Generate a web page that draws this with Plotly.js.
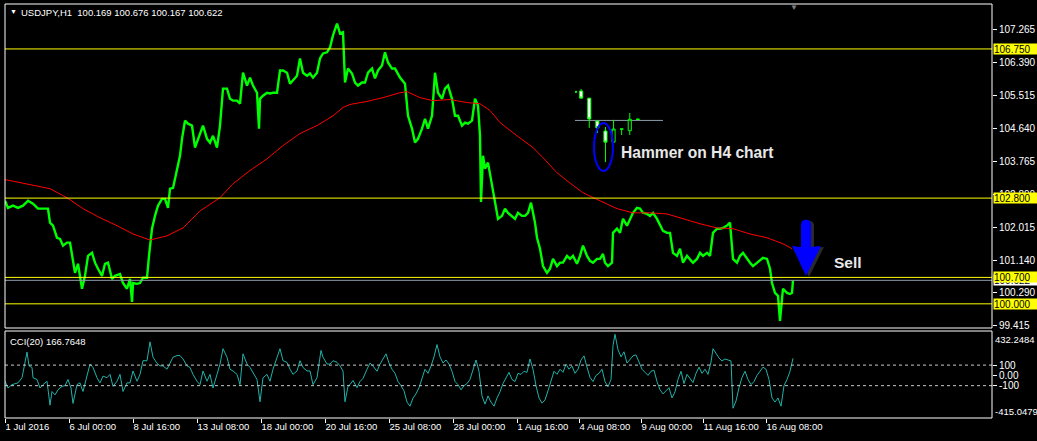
<!DOCTYPE html>
<html><head><meta charset="utf-8">
<script src="https://cdn.plot.ly/plotly-3.0.1.min.js"></script>
<style>html,body{margin:0;padding:0;background:#000;overflow:hidden}#chart{width:1037px;height:441px}</style>
</head><body><div id="chart"></div>
<script>
// ---- DATA ----
const bar = [5,8,13,18,23,28,33,38,43,48,
 50,53,57,60,63,67,70,72,75,78,
 82,85,88,92,95,98,102,105,108,112,
 115,120,123,127,130,132,133,137,140,143,
 147,149,152,155,158,162,165,168,170,173,
 177,180,182,185,188,192,195,198,200,203,
 207,210,213,217,220,223,227,230,233,237,
 240,243,247,250,253,257,259,260,263,267,
 270,273,277,280,283,287,290,293,297,300,
 303,307,310,313,317,320,323,327,330,333,
 337,340,343,345,348,352,355,358,362,365,
 368,372,375,378,382,385,388,392,395,400,
 405,408,412,415,418,422,425,428,432,435,
 438,442,445,448,452,455,458,462,465,468,
 472,475,478,480,481,483,485,488,492,495,
 498,502,505,508,512,515,518,522,525,528,
 531,533,535,537,540,543,547,550,553,557,
 560,563,567,570,573,577,580,583,587,590,
 593,597,600,603,605,608,612,613,617,620,
 623,627,630,633,637,640,643,647,650,653,
 657,660,663,667,670,673,677,680,683,687,
 690,693,697,700,703,707,710,713,717,720,
 723,727,730,733,737,740,743,747,750,753,
 757,760,763,767,770,772,775,778,780,782,
 783,787,790,792,793];
const close = [102.73,102.54,102.60,102.54,102.60,102.73,102.65,102.52,102.52,102.52,
 102.15,102.07,101.75,101.72,101.54,101.62,101.62,101.27,100.82,101.06,
 100.40,100.74,101.27,101.35,101.09,100.93,100.74,101.06,101.09,100.66,
 100.74,100.79,100.55,100.40,100.66,100.05,100.55,100.53,100.55,100.69,
 100.69,101.27,101.99,102.33,102.60,102.78,102.78,102.54,103.05,103.07,
 103.58,103.92,104.37,104.85,104.77,104.72,104.14,104.37,104.50,104.72,
 104.37,104.27,104.45,104.14,104.72,105.70,105.70,105.43,105.38,105.38,
 105.30,106.12,105.78,105.99,105.78,105.59,104.64,105.43,105.51,105.59,
 105.57,105.59,105.59,106.18,106.18,106.12,105.83,105.91,106.04,106.50,
 106.12,106.04,106.10,105.99,106.12,106.50,106.63,106.66,106.79,107.11,
 107.42,107.16,107.19,105.86,106.23,106.10,105.86,105.78,105.86,105.86,
 106.12,106.23,105.97,106.18,106.31,106.66,106.39,106.23,106.23,105.99,
 105.83,104.98,104.64,104.27,104.37,104.64,104.90,104.64,104.98,106.12,
 105.59,105.43,105.70,105.78,105.43,104.98,104.98,104.72,104.80,104.77,
 104.85,105.43,105.25,104.45,102.70,103.92,103.58,103.74,103.13,102.68,
 102.25,102.33,102.52,102.41,102.33,102.25,102.41,102.33,102.33,102.41,
 102.68,102.41,102.15,101.75,101.46,101.00,100.82,100.93,101.19,101.00,
 101.09,101.09,101.27,101.19,101.27,101.06,101.27,101.54,101.27,101.14,
 101.09,101.19,101.19,101.32,101.09,101.00,101.09,101.88,101.99,101.88,
 102.25,102.07,102.25,102.41,102.54,102.52,102.41,102.38,102.33,102.41,
 102.25,102.07,101.93,101.88,101.88,101.35,101.27,101.46,101.09,101.27,
 101.19,101.09,101.19,101.35,101.27,101.35,101.27,101.88,101.99,101.99,
 102.01,102.07,102.15,101.19,101.09,101.27,101.35,101.19,101.09,101.00,
 101.09,101.14,101.22,101.19,100.93,100.55,100.29,100.21,99.55,100.13,
 100.40,100.29,100.26,100.29,100.62];

const maBar = [5,33,50,67,83,100,117,133,150,167,183,200,220,233,250,267,283,300,317,333,
 343,350,367,383,400,407,420,433,450,467,480,490,500,517,533,543,557,567,583,600,
 617,633,650,667,683,700,717,733,750,767,783,792];
const ma = [103.29,103.13,103.05,102.81,102.52,102.28,102.07,101.85,101.69,101.80,
 102.01,102.46,102.81,103.18,103.53,103.84,104.19,104.51,104.72,104.98,
 105.20,105.28,105.36,105.46,105.59,105.62,105.46,105.38,105.41,105.33,
 105.30,105.12,104.80,104.45,104.14,103.87,103.47,103.26,102.94,102.73,
 102.52,102.41,102.41,102.38,102.25,102.12,102.01,101.99,101.85,101.75,
 101.59,101.46];

const cciBar = [5,8,12,15,18,22,24,27,29,32,
 33,37,40,43,47,50,52,55,58,62,
 65,68,71,73,77,80,83,87,90,93,
 97,100,103,107,110,113,117,120,123,127,
 130,133,137,140,143,147,150,153,157,160,
 163,167,170,173,177,180,183,187,190,193,
 197,200,203,207,210,213,217,220,223,227,
 230,233,237,240,243,247,250,253,257,260,
 263,267,270,273,277,280,283,287,290,293,
 297,300,303,307,310,313,317,321,323,327,
 330,333,337,340,343,345,348,350,353,357,
 360,363,367,370,373,377,380,383,386,389,
 392,395,398,401,404,407,410,413,416,419,
 422,425,428,431,434,437,440,443,446,449,
 452,455,458,461,464,467,470,473,476,479,
 482,485,488,491,494,497,500,503,506,509,
 512,515,518,521,524,527,530,533,536,539,
 542,545,548,551,554,557,560,563,566,569,
 572,575,578,581,584,587,590,593,596,599,
 602,605,608,611,613,615,618,621,624,627,
 630,633,636,639,642,645,648,651,654,657,
 660,663,666,669,672,675,678,681,684,687,
 690,693,696,699,702,705,708,711,713,716,
 719,722,725,728,731,733,736,739,742,745,
 748,751,754,757,760,763,766,769,772,775,
 778,781,784,787,790,793];
const cci = [-57,-123,-90,-83,-73,-23,93,227,93,77,
 -23,-40,-123,-90,-57,-290,-157,-190,-140,-107,
 -100,-40,-123,-273,-90,-73,-157,10,110,77,
 -23,-73,-7,-23,10,-107,-57,10,-157,-73,
 -73,43,-57,10,143,143,327,177,117,93,
 93,60,127,177,193,193,160,93,77,10,
 -57,-90,43,-57,10,-123,10,110,260,177,
 60,43,10,-90,210,110,77,27,-40,-257,
 -23,10,-57,60,177,260,143,127,60,10,
 43,143,77,43,43,-90,-23,243,177,110,
 110,143,127,93,43,-257,-107,-90,-50,-120,
 -60,-30,60,120,90,40,110,160,210,120,
 60,20,-60,-100,-150,-260,-300,-220,-180,-120,
 -40,60,20,90,180,300,180,120,150,110,
 40,-60,-90,-140,-100,-80,-40,60,150,40,
 -200,-280,-200,-260,-300,-220,-160,-80,-20,30,
 -40,-60,20,10,40,30,160,60,-100,-220,
 -270,-240,-150,-60,40,10,60,30,110,60,
 90,20,60,150,190,80,-20,-60,0,20,
 60,-60,-110,-40,290,400,250,180,230,120,
 160,190,200,130,60,30,0,40,50,-60,
 -140,-180,-150,-120,-220,-160,-40,40,-80,10,
 -30,-70,20,80,20,60,10,130,260,210,
 170,140,160,150,140,-320,-250,-120,-20,40,
 -40,-90,-60,0,40,80,60,-40,-220,-260,
 -220,-300,-100,-40,40,167];

const tickBars = [5,69,133,197,261,325,389,453,517,579,641,703,766];
const tickLabels = ['1 Jul 2016','6 Jul 00:00','8 Jul 16:00','13 Jul 08:00','18 Jul 00:00','20 Jul 16:00',
 '25 Jul 08:00','28 Jul 00:00','1 Aug 16:00','4 Aug 08:00','9 Aug 00:00','11 Aug 16:00','16 Aug 08:00'];
const priceTicks = [107.265,106.390,105.515,104.640,103.765,102.890,102.015,101.140,100.290,99.415];
const levels = [106.750,102.800,100.700,100.000];
const bidPrice = 100.622;
const cciLevels = [100,-100];
const cciMax = 432.2484, cciMin = -415.0479, cciNow = 166.7648;
const ohlcText = 'USDJPY,H1\u00a0\u00a0100.169 100.676 100.167 100.622';

// inset H4 candles (hammer picture)
const h4X = [0,1,2,3,4,5,6,7];
const h4Open  = [101.895,101.77,101.37,101.195,101.00,101.23,101.20,101.40];
const h4High  = [101.93,101.77,101.37,101.265,101.39,101.23,101.51,101.41];
const h4Low   = [101.77,101.25,101.16,100.65,101.00,101.125,101.125,101.39];
const h4Close = [101.77,101.405,101.25,101.00,101.23,101.23,101.40,101.40];
const h4Level = 101.38;

// ---- LAYOUT HELPERS ----
const W=1037,H=441,L=5,R=45,T=4,B=23;
const PW=W-L-R, PH=H-T-B;
const px = x => (x-L)/PW;
const py = y => (H-B-y)/PH;
const path = pts => 'M'+pts.map(p=>px(p[0]).toFixed(5)+','+py(p[1]).toFixed(5)).join('L')+'Z';
const FONT = 'Liberation Sans, Arial, sans-serif';
const BOLD = 'Liberation Sans, Arial, sans-serif';

const traces = [
 {x:bar, y:close, type:'scatter', mode:'lines', line:{color:'#00ff00', width:2.4}, xaxis:'x', yaxis:'y', hoverinfo:'skip'},
 {x:maBar, y:ma, type:'scatter', mode:'lines', line:{color:'#ff0000', width:1}, xaxis:'x', yaxis:'y', hoverinfo:'skip'},
 {x:cciBar, y:cci, type:'scatter', mode:'lines', line:{color:'#20b2aa', width:1}, xaxis:'x', yaxis:'y2', hoverinfo:'skip'},
 {x:h4X, open:h4Open, high:h4High, low:h4Low, close:h4Close, type:'candlestick', xaxis:'x3', yaxis:'y3',
  increasing:{line:{color:'#00ff00', width:1}, fillcolor:'#000000'},
  decreasing:{line:{color:'#00ff00', width:1}, fillcolor:'#ffffff'}, whiskerwidth:0, hoverinfo:'skip'}
];

const shapes = [];
shapes.push({type:'line', xref:'paper', x0:0, x1:1, yref:'y', y0:bidPrice, y1:bidPrice, line:{color:'#8c9aa8', width:1}});
levels.forEach(v=>shapes.push({type:'line', xref:'paper', x0:0, x1:1, yref:'y', y0:v, y1:v, line:{color:'#ffff00', width:1}}));
cciLevels.forEach(v=>shapes.push({type:'line', xref:'paper', x0:0, x1:1, yref:'y2', y0:v, y1:v, line:{color:'#c8c8c8', width:1, dash:'3px,3px'}}));
shapes.push({type:'rect', xref:'paper', x0:0, x1:1, yref:'y domain', y0:0, y1:1, line:{color:'#ffffff', width:1}});
shapes.push({type:'rect', xref:'paper', x0:0, x1:1, yref:'y2 domain', y0:0, y1:1, line:{color:'#ffffff', width:1}});
shapes.push({type:'line', xref:'x3', x0:-0.77, x1:10.1, yref:'y3', y0:h4Level, y1:h4Level, line:{color:'#8c9aa8', width:1}, layer:'below'});
shapes.push({type:'circle', xref:'paper', yref:'paper', x0:px(594), x1:px(613), y0:py(171), y1:py(123), line:{color:'#0000ff', width:2}});
const arrowPts = [[801,224],[802,221],[806,219.5],[810,221],[811,224],[811,247],[821,246],[806,276],[792,246],[801,247]];
shapes.push({type:'path', xref:'paper', yref:'paper', path:path(arrowPts.map(p=>[p[0]+3,p[1]+1])), fillcolor:'#2a2a2a', line:{width:0}});
shapes.push({type:'path', xref:'paper', yref:'paper', path:path(arrowPts), fillcolor:'#0000ff', line:{width:0}});

const ann = [];
const txt = (x,y,text,opts={}) => ann.push(Object.assign({xref:'paper', yref:'paper', x:px(x), y:py(y), text, showarrow:false,
  xanchor:'left', yanchor:'middle', font:{family:FONT, size:9.5, color:'#ffffff'}}, opts));
txt(8, 12, '\u25bc', {font:{family:FONT, size:7, color:'#ffffff'}});
txt(19, 12.5, ohlcText);
txt(8, 341, 'CCI(20) ' + cciNow.toFixed(4));
txt(788, 7, '\u25bc', {font:{family:FONT, size:8, color:'#808080'}});
txt(619, 152, '<b>Hammer on H4 chart</b>', {font:{family:BOLD, size:15.6, color:'#e8e8e8'}});
txt(832, 262, '<b>Sell</b>', {font:{family:BOLD, size:15.5, color:'#e8e8e8'}});
// right-side price boxes
const box = (v, bg) => ann.push({xref:'paper', yref:'y', x:1, y:v, xanchor:'left', yanchor:'middle', xshift:1,
  text:v.toFixed(3), showarrow:false, bgcolor:bg, width:43, height:10, borderpad:0, align:'left',
  font:{family:FONT, size:10, color:'#000000'}});
box(bidPrice, '#ffffff');
levels.forEach(v=>box(v, '#ffff00'));
ann.push({xref:'paper', yref:'paper', x:1, y:py(339), xanchor:'left', yanchor:'middle', xshift:1, text:cciMax.toFixed(4),
  showarrow:false, font:{family:FONT, size:9.5, color:'#ffffff'}});
ann.push({xref:'paper', yref:'paper', x:1, y:py(411), xanchor:'left', yanchor:'middle', xshift:1, text:cciMin.toFixed(4),
  showarrow:false, font:{family:FONT, size:9.5, color:'#ffffff'}});
// inset first partial candle dot
traces.push({x:[-0.64], y:[101.88], type:'scatter', mode:'markers', marker:{color:'#00ff00', size:2, symbol:'square'}, xaxis:'x3', yaxis:'y3', hoverinfo:'skip'});

const axFont = {family:FONT, size:10, color:'#ffffff'};
const layout = {
 width:W, height:H, margin:{l:L, r:R, t:T, b:B, pad:0},
 paper_bgcolor:'#000000', plot_bgcolor:'#000000', showlegend:false, boxgap:0.45,
 xaxis:{domain:[0,1], range:[5,992], anchor:'y2', tickmode:'array', tickvals:tickBars, ticktext:tickLabels,
   ticks:'outside', ticklen:4, tickcolor:'#ffffff', tickfont:{family:FONT, size:9.5, color:'#ffffff'}, tickangle:0,
   ticklabelposition:'outside right', showgrid:false, zeroline:false, showline:false, fixedrange:true, automargin:false},
 yaxis:{domain:[py(328),1], range:[99.36,107.94], side:'right', anchor:'x', tickmode:'array', tickvals:priceTicks,
   ticktext:priceTicks.map(v=>v.toFixed(3)), ticks:'outside', ticklen:4, tickcolor:'#ffffff', tickfont:axFont,
   showgrid:false, zeroline:false, showline:false, fixedrange:true, automargin:false},
 yaxis2:{domain:[0,py(331)], range:[cciMin,cciMax], side:'right', anchor:'x', tickmode:'array', tickvals:[100,0,-100],
   ticktext:['100','0.00','-100'], ticks:'outside', ticklen:4, tickcolor:'#ffffff', tickfont:axFont,
   showgrid:false, zeroline:false, showline:false, fixedrange:true, automargin:false},
 xaxis3:{domain:[px(570),px(668)], range:[-1.38,10.72], anchor:'y3', visible:false, rangeslider:{visible:false}, fixedrange:true},
 yaxis3:{domain:[py(175),py(80)], range:[100.425,102.0875], anchor:'x3', visible:false, fixedrange:true},
 shapes, annotations:ann
};
Plotly.newPlot('chart', traces, layout, {staticPlot:true, displayModeBar:false});
</script></body></html>
